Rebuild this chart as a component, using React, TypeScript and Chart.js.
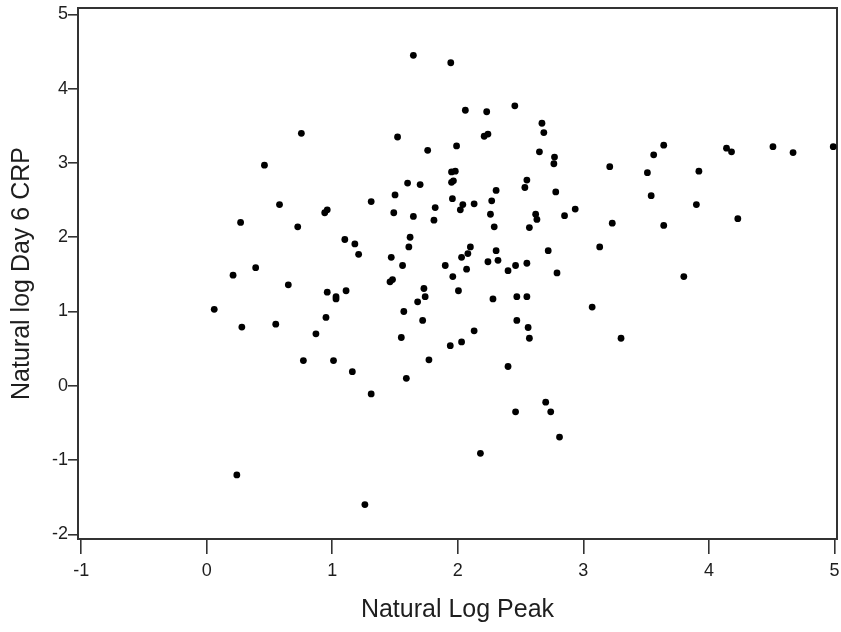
import React, { useEffect, useRef } from "react";
import { Chart, registerables } from "chart.js";

Chart.register(...registerables);

// natural log of peak (x) and natural log of day 6 CRP (y)
const peakLog = [
  0.754, 0.46, 0.58, 1.31, 1.5, 0.94, 0.96, 0.27, 0.725, 1.49, 1.1, 1.18, 1.21, 1.47, 0.39, 0.21, 0.65,
  1.46, 1.48, 0.96, 1.03, 1.03, 1.11, 0.06, 0.95, 0.28, 0.55, 0.87, 0.77, 1.01, 1.16, 1.31, 0.24, 1.26,
  1.646, 1.944, 2.06, 2.23, 1.52, 2.21, 2.24, 1.76, 1.99, 1.95, 1.98, 1.95, 1.965, 1.6, 1.7, 2.305,
  1.957, 2.04, 2.02, 2.13, 2.27, 1.646, 1.82, 1.81, 2.26, 2.29, 1.62, 1.61, 2.1, 2.08, 2.03, 2.305,
  2.24, 2.32, 2.4, 1.56, 1.9, 1.96, 2.07, 1.73, 1.74, 1.68, 2.005, 2.28, 1.57, 1.72, 2.13, 2.03, 1.94,
  1.55, 1.77, 1.59, 2.4,
  2.454, 2.67, 2.685, 2.65, 2.77, 2.765, 3.21, 3.51, 3.56, 3.64, 3.92, 4.14, 4.18, 4.51, 4.67, 4.99,
  2.55, 2.534, 2.78, 2.62, 2.63, 2.85, 2.935, 2.57, 3.23, 3.54, 3.9, 3.64, 4.23, 2.46, 2.55, 2.72,
  2.79, 3.13, 3.8, 2.47, 2.55, 3.07, 2.47, 2.56, 2.57, 3.3, 2.7, 2.74, 2.46, 2.81, 2.18,
];

const crpLog = [
  3.4, 2.97, 2.44, 2.48, 2.57, 2.33, 2.37, 2.2, 2.14, 2.33, 1.97, 1.91, 1.77, 1.73, 1.59, 1.49, 1.36,
  1.4, 1.43, 1.26, 1.2, 1.17, 1.28, 1.03, 0.92, 0.79, 0.83, 0.7, 0.34, 0.34, 0.19, -0.11, -1.2, -1.6,
  4.45, 4.35, 3.71, 3.69, 3.35, 3.36, 3.39, 3.17, 3.23, 2.88, 2.89, 2.74, 2.76, 2.73, 2.71, 2.63,
  2.52, 2.44, 2.37, 2.45, 2.49, 2.28, 2.4, 2.23, 2.31, 2.14, 2.0, 1.87, 1.87, 1.78, 1.73, 1.82,
  1.67, 1.69, 1.55, 1.62, 1.62, 1.47, 1.57, 1.31, 1.2, 1.13, 1.28, 1.17, 1.0, 0.88, 0.74, 0.59, 0.54,
  0.65, 0.35, 0.1, 0.26,
  3.77, 3.535, 3.41, 3.15, 3.08, 2.99, 2.95, 2.87, 3.11, 3.24, 2.89, 3.2, 3.15, 3.22, 3.14, 3.22,
  2.77, 2.67, 2.61, 2.31, 2.24, 2.29, 2.38, 2.13, 2.19, 2.56, 2.44, 2.16, 2.25, 1.62, 1.65, 1.82,
  1.52, 1.87, 1.47, 1.2, 1.2, 1.06, 0.88, 0.785, 0.64, 0.64, -0.22, -0.35, -0.35, -0.69, -0.91,
];

const xTitle = "Natural Log Peak";
const yTitle = "Natural log Day 6 CRP";

const FONT = "'Liberation Sans', Arial, Helvetica, sans-serif";
const INK = "#1e1e1e";
const LINE = "#333";

// box round the plot area
const framePlugin = {
  id: "frame",
  beforeDatasetsDraw(chart: any) {
    const { ctx, chartArea } = chart;
    ctx.save();
    ctx.strokeStyle = LINE;
    ctx.lineWidth = 2;
    ctx.strokeRect(chartArea.left, chartArea.top, chartArea.right - chartArea.left, chartArea.bottom - chartArea.top);
    ctx.restore();
  },
};

const App: React.FC = () => {
  const chartRef = useRef<HTMLCanvasElement>(null);

  useEffect(() => {
    if (!chartRef.current) return;
    const points = peakLog.map((x, i) => ({ x, y: crpLog[i] }));

    const myChart = new Chart(chartRef.current, {
      type: "scatter",
      data: {
        datasets: [
          {
            data: points,
            backgroundColor: "#000",
            borderWidth: 0,
            pointRadius: 3.4,
            clip: false,
          },
        ],
      },
      options: {
        responsive: false,
        animation: false,
        layout: { padding: { top: 8, right: 4, left: 0, bottom: 0 } },
        plugins: {
          legend: { display: false },
          tooltip: { enabled: false },
        },
        scales: {
          x: {
            type: "linear",
            min: -1.025,
            max: 5.02,
            border: { display: false },
            grid: { drawOnChartArea: false, drawTicks: true, tickLength: 15, color: LINE, lineWidth: 1.6 },
            ticks: {
              stepSize: 1,
              includeBounds: false,
              padding: 6,
              color: INK,
              font: { family: FONT, size: 18 },
              maxRotation: 0,
            },
            title: {
              display: true,
              text: xTitle,
              color: INK,
              font: { family: FONT, size: 25 },
              padding: { top: 0, bottom: 7 },
            },
            afterFit: (scale: any) => {
              scale.height = 93;
              scale.paddingLeft = 0;
              scale.paddingRight = 0;
            },
          },
          y: {
            type: "linear",
            min: -2.063,
            max: 5.087,
            border: { display: false },
            grid: { drawOnChartArea: false, drawTicks: true, tickLength: 10, color: LINE, lineWidth: 1.6 },
            ticks: {
              stepSize: 1,
              includeBounds: false,
              padding: 0,
              color: INK,
              font: { family: FONT, size: 18 },
            },
            title: {
              display: true,
              text: yTitle,
              color: INK,
              font: { family: FONT, size: 25 },
              padding: { top: 7, bottom: 0 },
            },
            afterFit: (scale: any) => {
              scale.width = 78;
              scale.paddingTop = 0;
              scale.paddingBottom = 0;
            },
          },
        },
      },
      plugins: [framePlugin],
    });

    return () => {
      myChart.destroy();
    };
  }, []);

  return (
    <div style={{ position: "absolute", left: 0, top: 0, width: 841, height: 632, background: "#fff" }}>
      <canvas ref={chartRef} width={841} height={632} />
    </div>
  );
};

export default App;
